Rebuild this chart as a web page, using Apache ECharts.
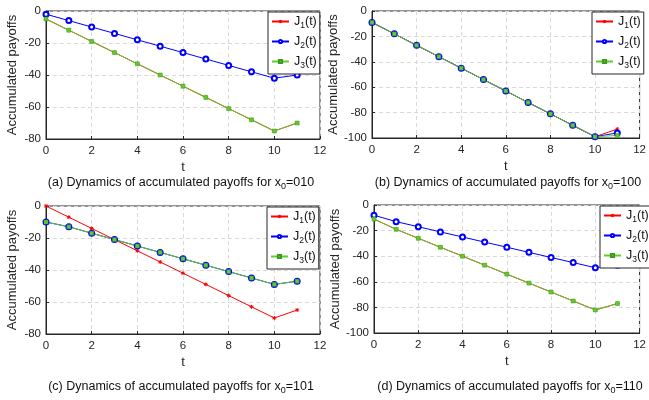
<!DOCTYPE html>
<html>
<head>
<meta charset="utf-8">
<script src="https://cdn.jsdelivr.net/npm/echarts@6/dist/echarts.min.js"></script>
<style>
  html, body { margin: 0; padding: 0; background: #fff; }
  #main { width: 649px; height: 400px; }
</style>
</head>
<body>
<div id="main"></div>
<script>
// time steps
var t = [0, 1, 2, 3, 4, 5, 6, 7, 8, 9, 10, 11];

// (a) x0=010
var a_J1 = [-5, -12, -19, -26, -33, -40, -47, -54, -61, -68, -75, -70];
var a_J2 = [-2, -6, -10, -14, -18, -22, -26, -30, -34, -38, -42, -40];
var a_J3 = [-5, -12, -19, -26, -33, -40, -47, -54, -61, -68, -75, -70];

// (b) x0=100
var b_J1 = [-9, -18, -27, -36, -45, -54, -63, -72, -81, -90, -99, -93];
var b_J2 = [-9, -18, -27, -36, -45, -54, -63, -72, -81, -90, -99, -96];
var b_J3 = [-9, -18, -27, -36, -45, -54, -63, -72, -81, -90, -99, -98];

// (c) x0=101
var c_J1 = [0, -7, -14, -21, -28, -35, -42, -49, -56, -63, -70, -65];
var c_J2 = [-10, -13, -17, -21, -25, -29, -33, -37, -41, -45, -49, -47];
var c_J3 = [-10, -13, -17, -21, -25, -29, -33, -37, -41, -45, -49, -47];

// (d) x0=110
var d_J1 = [-11, -19, -26, -33, -40, -47, -54, -61, -68, -75, -82, -77];
var d_J2 = [-8, -13, -17, -21, -25, -29, -33, -37, -41, -45, -49, -47];
var d_J3 = [-11, -19, -26, -33, -40, -47, -54, -61, -68, -75, -82, -77];

var yMins = [-80, -100, -80, -100];
var captions = [['a', '010'], ['b', '100'], ['c', '101'], ['d', '110']];
var names = ['J1(t)', 'J2(t)', 'J3(t)'];

var FONT = '"Liberation Sans", Arial, sans-serif';
var RED = '#ff0000', BLUE = '#0000ff', GREEN = '#5ccc2e';

// plot boxes
var boxes = [
  { left: 46, top: 11, width: 274, height: 128 },
  { left: 372, top: 11, width: 270, height: 127 },
  { left: 46, top: 206, width: 274, height: 128 },
  { left: 374, top: 205, width: 271, height: 128 }
];
var legendPos = [
  { left: 268, top: 12 },
  { left: 592, top: 12 },
  { left: 267, top: 207 },
  { left: 600, top: 206 }
];
var captionPos = [
  { x: 181, y: 183 },
  { x: 508, y: 183 },
  { x: 181, y: 387 },
  { x: 510, y: 387 }
];

var allData = [
  [a_J1, a_J2, a_J3],
  [b_J1, b_J2, b_J3],
  [c_J1, c_J2, c_J3],
  [d_J1, d_J2, d_J3]
];

var star = 'path://M0,-5L0,5M-5,0L5,0M-3.5,-3.5L3.5,3.5M-3.5,3.5L3.5,-3.5';

function pairs(ys) {
  return t.map(function (x, i) { return [x, ys[i]]; });
}

var grid = [], xAxis = [], yAxis = [], series = [], legend = [], graphic = [];

boxes.forEach(function (b, k) {
  grid.push({
    left: b.left, top: b.top, width: b.width, height: b.height,
    show: true, borderColor: '#262626', borderWidth: 1, backgroundColor: '#fff'
  });
  xAxis.push({
    gridIndex: k, type: 'value', min: 0, max: 12, interval: 2,
    name: 't', nameLocation: 'middle', nameGap: 22,
    nameTextStyle: { fontFamily: FONT, fontSize: 13, color: '#262626' },
    axisLine: { show: true, onZero: false, lineStyle: { color: '#262626' } },
    axisTick: { show: true, inside: true, length: 3, lineStyle: { color: '#262626' } },
    axisLabel: { fontFamily: FONT, fontSize: 11.5, color: '#262626', margin: 6 },
    splitLine: { show: true, lineStyle: { color: '#d9d9d9', type: [4, 3] } }
  });
  yAxis.push({
    gridIndex: k, type: 'value', min: yMins[k], max: 0, interval: 20,
    name: 'Accumulated payoffs', nameLocation: 'middle', nameGap: 27,
    nameTextStyle: { fontFamily: FONT, fontSize: 13, color: '#262626' },
    axisLine: { show: true, lineStyle: { color: '#262626' } },
    axisTick: { show: true, inside: true, length: 3, lineStyle: { color: '#262626' } },
    axisLabel: { fontFamily: FONT, fontSize: 11.5, color: '#262626', margin: 5 },
    splitLine: { show: true, lineStyle: { color: '#d9d9d9', type: [4, 3] } }
  });

  var d = allData[k];
  series.push({
    name: names[0], type: 'line', xAxisIndex: k, yAxisIndex: k, data: pairs(d[0]),
    symbol: star, symbolSize: 4, showAllSymbol: true,
    lineStyle: { color: RED, width: 1 },
    itemStyle: { color: RED, borderColor: RED, borderWidth: 1 }
  });
  series.push({
    name: names[1], type: 'line', xAxisIndex: k, yAxisIndex: k, data: pairs(d[1]),
    symbol: 'emptyCircle', symbolSize: 5, showAllSymbol: true,
    lineStyle: { color: BLUE, width: 1 },
    itemStyle: { color: BLUE, borderColor: BLUE, borderWidth: 1 }
  });
  series.push({
    name: names[2], type: 'line', xAxisIndex: k, yAxisIndex: k, data: pairs(d[2]),
    symbol: 'rect', symbolSize: 4, showAllSymbol: true,
    lineStyle: { color: GREEN, width: 1 },
    itemStyle: { color: GREEN, borderColor: '#3f9a1e', borderWidth: 0.5 }
  });

  legend.push({
    data: names, orient: 'vertical',
    left: legendPos[k].left, top: legendPos[k].top,
    backgroundColor: '#fff', borderColor: '#262626', borderWidth: 1,
    padding: [3, 3, 4, 3], itemGap: 5, itemWidth: 17, itemHeight: 4,
    selectedMode: false,
    formatter: function (n) { return '{m|J}{s|' + n.charAt(1) + '}{m|(t)}'; },
    textStyle: {
      fontFamily: FONT, color: '#111',
      rich: {
        m: { fontFamily: FONT, fontSize: 12.5, color: '#111' },
        s: { fontFamily: FONT, fontSize: 8.5, color: '#111', padding: [8, 0, 0, 0] }
      }
    }
  });

  graphic.push({
    type: 'text', x: captionPos[k].x, y: captionPos[k].y,
    style: {
      text: '{m|(' + captions[k][0] + ') Dynamics of accumulated payoffs for x}{s|0}{m|=' + captions[k][1] + '}',
      align: 'center', verticalAlign: 'middle',
      rich: {
        m: { fontFamily: FONT, fontSize: 12.5, fill: '#111' },
        s: { fontFamily: FONT, fontSize: 9, fill: '#111', padding: [8, 0, 0, 0] }
      }
    }
  });
});

var chart = echarts.init(document.getElementById('main'));
chart.setOption({
  animation: false,
  grid: grid,
  xAxis: xAxis,
  yAxis: yAxis,
  legend: legend,
  series: series,
  graphic: graphic
});
</script>
</body>
</html>
